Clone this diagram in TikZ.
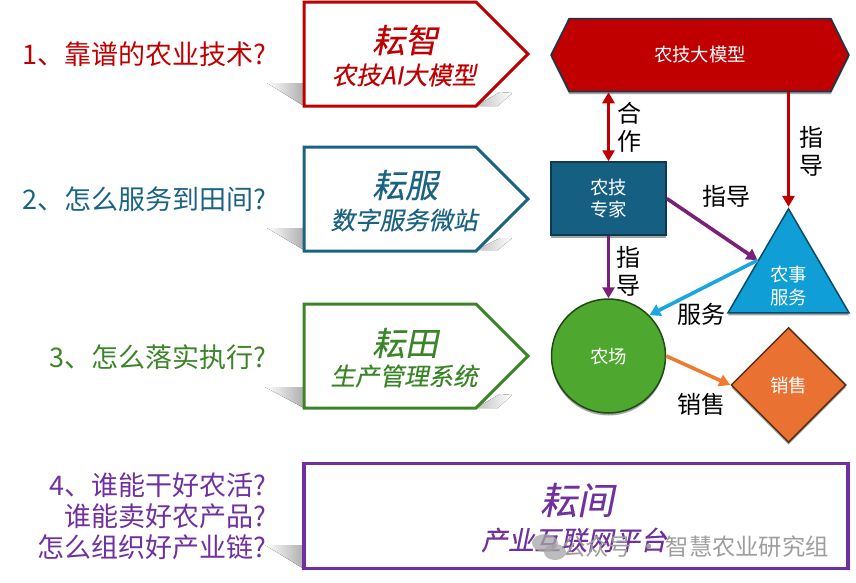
\documentclass[tikz,border=0pt]{standalone}
\usepackage{fontspec}
\setmainfont{Noto Sans CJK SC}
\newfontfamily\slantfont[FakeSlant=0.2,FakeBold=0.3]{Noto Sans CJK SC}
\usetikzlibrary{arrows.meta,shapes.geometric,shapes.symbols,shadows}
\definecolor{cred}{HTML}{C00000}
\definecolor{cblue}{HTML}{1B6383}
\definecolor{fexpert}{HTML}{156082}
\definecolor{cgreen}{HTML}{3B8528}
\definecolor{cpurple}{HTML}{7030A0}
\definecolor{apurple}{HTML}{7A2076}
\definecolor{ablue}{HTML}{1AA7E0}
\definecolor{aorange}{HTML}{F07B30}
\definecolor{ffarm}{HTML}{4EA72E}
\definecolor{dfarm}{HTML}{1F4A14}
\definecolor{ftri}{HTML}{0F9ED5}
\definecolor{dtri}{HTML}{0B4A66}
\definecolor{fsale}{HTML}{E97132}
\definecolor{dsale}{HTML}{5A3015}
\definecolor{dblue}{HTML}{0E3A50}
\tikzset{
  x=1pt,y=-1pt,
  question/.style={anchor=east,align=right,inner sep=0pt,font=\fontsize{27}{31}\selectfont},
  penta/.style={signal,signal to=east,signal pointer angle=90,draw=#1,fill=white,line width=3pt,minimum width=224pt,minimum height=104pt,inner sep=0pt},
  title/.style={inner sep=0pt,text=#1,font=\slantfont\fontsize{33}{36}\selectfont},
  subtitle/.style={inner sep=0pt,text=#1,font=\slantfont\fontsize{24.5}{28}\selectfont},
  lbl/.style={inner sep=0pt,align=center,font=\fontsize{24}{28}\selectfont},
  inlbl/.style={text=white,align=center,inner sep=0pt,font=\fontsize{18.4}{22.5}\selectfont},
  soft/.style={drop shadow={shadow xshift=0pt,shadow yshift=-2.5pt,opacity=.35,fill=black}},
  arr/.style={line width=3.6pt,draw=#1,-{Triangle[length=11pt,width=12pt,fill=#1]}},
  wedgeL/.style={left color=white,right color=black!32,draw=none},
  wedgeR/.style={right color=white,left color=black!25,draw=none},
}
\begin{document}
\begin{tikzpicture}
\useasboundingbox (0,0) rectangle (856,582);
% cast shadows
\fill[wedgeL] (267,83) -- (304,83) -- (304,106) -- cycle;
\fill[wedgeR] (476,106) -- (500,92) -- (512,93) -- (498,106) -- cycle;
\fill[wedgeL] (267,228) -- (304,228) -- (304,250) -- cycle;
\fill[wedgeR] (476,250) -- (500,238) -- (512,238) -- (498,250) -- cycle;
\fill[wedgeL] (265,387) -- (304,387) -- (304,408) -- cycle;
\fill[wedgeR] (476,408) -- (500,394) -- (512,395) -- (498,408) -- cycle;
\fill[wedgeL] (265,545) -- (304,545) -- (304,569) -- cycle;
% questions
\node[question,text=cred] (q1) at (266,54) {1、靠谱的农业技术?};
\node[question,text=cblue] (q2) at (266,199) {2、怎么服务到田间?};
\node[question,text=cgreen] (q3) at (266,357) {3、怎么落实执行?};
\node[question,text=cpurple] (q4) at (266,516) {4、谁能干好农活?\\谁能卖好农产品?\\怎么组织好产业链?};
% product shapes
\node[penta=cred] (p1) at (390,54) {};
\node[title=cred] (t1) at (405,40) {耘智};
\node[subtitle=cred] (s1) at (404,75) {农技AI大模型};
\node[penta=cblue] (p2) at (390,199) {};
\node[title=cblue] (t2) at (405,185) {耘服};
\node[subtitle=cblue] (s2) at (404,220) {数字服务微站};
\node[penta=cgreen] (p3) at (390,356) {};
\node[title=cgreen] (t3) at (405,343) {耘田};
\node[subtitle=cgreen] (s3) at (404,376) {生产管理系统};
\node[draw=cpurple,fill=white,line width=3.5pt,minimum width=544pt,minimum height=105pt,inner sep=0pt] (p4) at (576,516) {};
\node[title=cpurple,font=\slantfont\fontsize{37}{40}\selectfont] (t4) at (577,500) {耘间};
\node[subtitle=cpurple,font=\slantfont\fontsize{26.5}{30}\selectfont] (s4) at (574,540) {产业互联网平台};
% watermark
\fill[black!35,opacity=.75] (545,543) ellipse (13 and 9);
\fill[black!35,opacity=.75] (555,552) ellipse (11 and 8);
\node[anchor=east,inner sep=0pt,text=black!38,font=\fontsize{23.3}{26}\selectfont] (wm) at (829,547) {公众号 · 智慧农业研究组};
% diagram
\node[signal,signal to=east and west,signal pointer angle=127,draw=dblue,fill=cred,line width=1.5pt,minimum width=298pt,minimum height=73pt,inner sep=0pt,soft,inlbl] (hex) at (700,55) {农技大模型};
\node[draw=dblue,fill=fexpert,line width=1.5pt,minimum width=115pt,minimum height=73pt,inner sep=0pt,soft,inlbl] (expert) at (608.5,198.5) {农技\\专家};
\node[circle,draw=dfarm,fill=ffarm,line width=1.5pt,minimum size=114pt,inner sep=0pt,soft,inlbl] (farm) at (608.5,356) {农场};
\node[isosceles triangle,shape border rotate=90,isosceles triangle stretches,draw=dtri,fill=ftri,line width=1.5pt,minimum width=121pt,minimum height=104pt,inner sep=0pt,soft] (tri) at (788.5,278) {};
\node[inlbl] (trilbl) at (788.5,286) {农事\\服务};
\node[diamond,draw=dsale,fill=fsale,line width=1.5pt,minimum width=115pt,minimum height=115pt,inner sep=0pt,soft,inlbl] (sale) at (788.5,385) {销售};
% connectors
\draw[line width=3.6pt,draw=cred,fill=cred,{Triangle[length=11pt,width=12pt]}-{Triangle[length=11pt,width=12pt]}] (expert.north |- hex.south) -- (expert.north);
\draw[arr=cred] (tri.apex |- hex.south) -- (tri.apex);
\draw[arr=apurple] (expert.east) -- (tri.left side);
\draw[arr=apurple] (expert.south) -- (farm.north);
\draw[arr=ablue] (tri.left side) -- (farm.north east);
\draw[arr=aorange] (farm.east) -- (sale.west);
% labels
\node[lbl] (l1) at (629,127) {合\\作};
\node[lbl] (l2) at (811,151) {指\\导};
\node[lbl] (l3) at (726,196) {指导};
\node[lbl] (l4) at (628,271) {指\\导};
\node[lbl] (l5) at (701,314) {服务};
\node[lbl] (l6) at (701,404) {销售};
\end{tikzpicture}
\end{document}
